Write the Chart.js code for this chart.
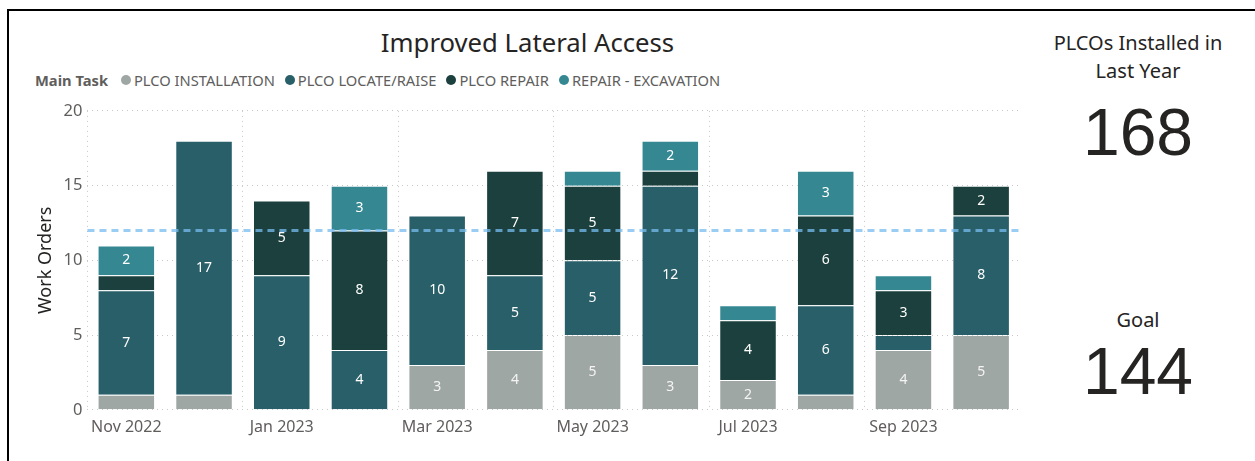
<!DOCTYPE html>
<html>
<head>
<meta charset="utf-8">
<script src="https://cdn.jsdelivr.net/npm/chart.js@4"></script>
<style>
  body { margin: 0; width: 1255px; height: 461px; background: #fff; overflow: hidden; position: relative; font-family: "Noto Sans", sans-serif; }
  #frame { position: absolute; left: 7px; top: 9px; width: 1300px; height: 470px; border-left: 2px solid #000; border-top: 2px solid #000; }
  #title { position: absolute; left: 0; width: 1055px; top: 25px; text-align: center; font-size: 25.7px; color: #252423; }
  #legend { position: absolute; left: 35px; top: 70px; display: flex; align-items: center; font-size: 14.7px; color: #605E5C; white-space: nowrap; }
  #legend b { color: #605E5C; margin-right: 13px; font-weight: 700; }
  #legend .item { display: flex; align-items: center; margin-right: 10px; }
  #legend .dot { width: 10px; height: 10px; border-radius: 50%; margin-right: 3px; }
  #wrap { position: absolute; left: 35px; top: 96px; width: 985px; height: 349px; }
  .kpi { position: absolute; left: 1030px; width: 216px; text-align: center; color: #252423; }
  .kpi .lab { font-size: 20px; line-height: 28px; color: #252423; }
  .kpi .val { font-family: "Liberation Sans", Arial, sans-serif; font-size: 66px; line-height: 70px; }
</style>
</head>
<body>
<div id="frame"></div>
<div id="title">Improved Lateral Access</div>
<div id="legend"><b>Main Task</b></div>
<div id="wrap"><canvas id="chart"></canvas></div>
<div class="kpi" style="top:29px"><div class="lab">PLCOs Installed in<br>Last Year</div><div class="val" id="kpi1" style="margin-top:12px"></div></div>
<div class="kpi" style="top:306px"><div class="lab">Goal</div><div class="val" id="kpi2" style="margin-top:2px"></div></div>
<script>
const months = ['Nov 2022', 'Dec 2022', 'Jan 2023', 'Feb 2023', 'Mar 2023', 'Apr 2023',
  'May 2023', 'Jun 2023', 'Jul 2023', 'Aug 2023', 'Sep 2023', 'Oct 2023'];
const installation = [1, 1, 0, 0, 3, 4, 5, 3, 2, 1, 4, 5];
const locateRaise = [7, 17, 9, 4, 10, 5, 5, 12, 0, 6, 1, 8];
const repair = [1, 0, 5, 8, 0, 7, 5, 1, 4, 6, 3, 2];
const excavation = [2, 0, 0, 3, 0, 0, 1, 2, 1, 3, 1, 0];
const seriesNames = ['PLCO INSTALLATION', 'PLCO LOCATE/RAISE', 'PLCO REPAIR', 'REPAIR - EXCAVATION'];
const seriesColors = ['#9FA7A5', '#295F69', '#1B403D', '#358892'];
const installedLastYear = 168;
const goal = 144;
const goalLine = 12;

document.getElementById('kpi1').textContent = installedLastYear;
document.getElementById('kpi2').textContent = goal;

const legend = document.getElementById('legend');
seriesNames.forEach((name, i) => {
  const item = document.createElement('span');
  item.className = 'item';
  item.innerHTML = `<span class="dot" style="background:${seriesColors[i]}"></span>${name}`;
  legend.appendChild(item);
});

const allSeries = [installation, locateRaise, repair, excavation];

// white numbers in the middle of each segment (only when there is room)
const segmentLabels = {
  id: 'segmentLabels',
  afterDatasetsDraw(chart) {
    const ctx = chart.ctx;
    ctx.save();
    ctx.font = '14px "Noto Sans"';
    ctx.textAlign = 'center';
    ctx.textBaseline = 'middle';
    chart.data.datasets.forEach((ds, di) => {
      chart.getDatasetMeta(di).data.forEach((bar, i) => {
        const v = ds.data[i];
        if (v < 2) return;
        ctx.fillStyle = di === 0 ? '#f4f4f4' : '#ffffff';
        ctx.fillText(v, bar.x, (bar.y + bar.base) / 2);
      });
    });
    ctx.restore();
  }
};

// dashed reference line
const refLine = {
  id: 'refLine',
  afterDatasetsDraw(chart) {
    const { ctx, chartArea } = chart;
    const y = chart.scales.y.getPixelForValue(goalLine);
    ctx.save();
    ctx.strokeStyle = 'rgba(120,188,240,0.75)';
    ctx.lineWidth = 3;
    ctx.setLineDash([7, 5]);
    ctx.beginPath();
    ctx.moveTo(chartArea.left, y);
    ctx.lineTo(chartArea.right, y);
    ctx.stroke();
    ctx.restore();
  }
};

new Chart(document.getElementById('chart'), {
  type: 'bar',
  data: {
    labels: months,
    datasets: allSeries.map((d, i) => ({
      label: seriesNames[i],
      data: d,
      backgroundColor: seriesColors[i],
      borderColor: 'rgba(255,255,255,0.22)',
      borderWidth: 1,
      categoryPercentage: 1,
      barPercentage: 0.74
    }))
  },
  options: {
    responsive: true,
    maintainAspectRatio: false,
    animation: false,
    layout: { padding: { top: 10, right: 0, bottom: 0, left: 0 } },
    plugins: { legend: { display: false }, title: { display: false }, tooltip: { enabled: false } },
    scales: {
      x: {
        stacked: true,
        grid: {
          color: (c) => (c.index % 2 === 0 ? '#c8c8c8' : 'transparent'),
          drawTicks: false
        },
        border: { display: false, dash: [1, 4] },
        ticks: {
          autoSkip: false,
          maxRotation: 0,
          padding: 8,
          color: '#605E5C',
          font: { family: 'Noto Sans', size: 16 },
          callback: (v, i) => (i % 2 === 0 ? months[i] : '')
        }
      },
      y: {
        stacked: true,
        min: 0,
        max: 20,
        grid: { color: '#c8c8c8', drawTicks: false },
        border: { display: false, dash: [1, 4] },
        ticks: {
          stepSize: 5,
          padding: 5,
          color: '#605E5C',
          font: { family: 'Noto Sans', size: 16.5 }
        },
        title: {
          display: true,
          text: 'Work Orders',
          color: '#252423',
          padding: { top: 0, bottom: 2 },
          font: { family: 'Noto Sans', size: 18 }
        }
      }
    }
  },
  plugins: [segmentLabels, refLine]
});
</script>
</body>
</html>
